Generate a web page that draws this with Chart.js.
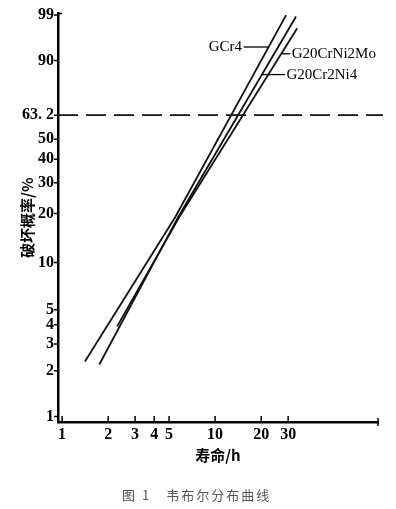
<!DOCTYPE html>
<html>
<head>
<meta charset="utf-8">
<script src="https://cdn.jsdelivr.net/npm/chart.js@4.4.1/dist/chart.umd.min.js"></script>
<style>
  html, body { margin: 0; padding: 0; background: #fff; }
  #wrap { position: relative; width: 396px; height: 509px; }
  #caption { position: absolute; left: 122px; top: 485px; font: 13px 'Noto Sans CJK SC'; color: #555; letter-spacing: 2px; white-space: pre; }
</style>
</head>
<body>
<div id="wrap">
  <canvas id="chart" width="396" height="509"></canvas>
  <div id="caption">图 1　韦布尔分布曲线</div>
</div>
<script>
// values (life in h, failure probability in %)
const lifeTicks = [1, 2, 3, 4, 5, 10, 20, 30];
const probTicks = [1, 2, 3, 4, 5, 10, 20, 30, 40, 50, 63.2, 90, 99];
const probTickLabels = ['1', '2', '3', '4', '5', '10', '20', '30', '40', '50', '63. 2', '90', '99'];

const seriesNames = ['GCr4', 'G20CrNi2Mo', 'G20Cr2Ni4'];
const gcr4Life = [1.41, 5.48, 29.1];
const gcr4Prob = [2.3, 19.0, 99.0];
const g20crni2moLife = [2.29, 5.82, 34.4];
const g20crni2moProb = [3.9, 19.0, 97.7];
const g20cr2ni4Life = [1.75, 5.73, 33.8];
const g20cr2ni4Prob = [2.2, 19.0, 98.9];

const characteristicProb = 63.2;
// where each name's leader line meets its curve (%)
const labelProb = [94.1, 92.2, 84.4];

// weibull paper: ln(-ln(1-F))
const weib = p => Math.log(-Math.log(1 - p / 100));
const toPoints = (life, prob) => life.map((x, i) => ({ x, y: weib(prob[i]) }));

const serif = 'Liberation Serif';
const cjk = 'Noto Sans CJK SC';
const lineStyle = { borderColor: '#111', borderWidth: 1.8, pointRadius: 0, showLine: true, fill: false };

const paperMarks = {
  id: 'paperMarks',
  afterDraw(chart) {
    const { ctx, chartArea: area, scales: { x, y } } = chart;
    ctx.save();
    ctx.strokeStyle = '#000';
    ctx.lineWidth = 1.5;
    ctx.beginPath();
    lifeTicks.forEach(v => {
      const px = x.getPixelForValue(v);
      ctx.moveTo(px, area.bottom);
      ctx.lineTo(px, area.bottom - 6);
    });
    probTicks.forEach(p => {
      const py = y.getPixelForValue(weib(p));
      ctx.moveTo(area.left - 4, py);
      ctx.lineTo(area.left, py);
    });
    ctx.moveTo(area.left, area.top);
    ctx.lineTo(area.left + 4, area.top);
    ctx.moveTo(area.right, area.bottom - 4);
    ctx.lineTo(area.right, area.bottom + 4);
    ctx.stroke();

    // curve names with leader lines
    const leaders = [
      { side: -1, len: 25 },
      { side: 1, len: 9 },
      { side: 1, len: 23 }
    ];
    ctx.font = '15px "' + serif + '"';
    ctx.fillStyle = '#000';
    ctx.textBaseline = 'middle';
    seriesNames.forEach((name, i) => {
      const pts = chart.getDatasetMeta(i).data;
      const py = y.getPixelForValue(weib(labelProb[i]));
      // find the segment that spans this height
      let px = pts[0].x;
      for (let k = 0; k < pts.length - 1; k++) {
        const a = pts[k], b = pts[k + 1];
        if ((py - a.y) * (py - b.y) <= 0) {
          px = a.x + (py - a.y) * (b.x - a.x) / (b.y - a.y);
        }
      }
      const { side, len } = leaders[i];
      const end = px + side * len;
      ctx.lineWidth = 1.3;
      ctx.beginPath();
      ctx.moveTo(px, py);
      ctx.lineTo(end, py);
      ctx.stroke();
      ctx.textAlign = side < 0 ? 'right' : 'left';
      ctx.fillText(name, end + side * 1.5, py);
    });
    ctx.restore();
  }
};

new Chart(document.getElementById('chart'), {
  type: 'scatter',
  data: {
    datasets: [
      { label: seriesNames[0], data: toPoints(gcr4Life, gcr4Prob), ...lineStyle },
      { label: seriesNames[1], data: toPoints(g20crni2moLife, g20crni2moProb), ...lineStyle },
      { label: seriesNames[2], data: toPoints(g20cr2ni4Life, g20cr2ni4Prob), ...lineStyle },
      {
        label: '63.2',
        data: [{ x: 0.94, y: weib(characteristicProb) }, { x: 125, y: weib(characteristicProb) }],
        ...lineStyle, borderWidth: 1.8, borderDash: [20, 8], clip: false
      }
    ]
  },
  options: {
    responsive: false,
    animation: false,
    layout: { padding: { top: 10, right: 18, bottom: 26, left: 0 } },
    plugins: { legend: { display: false }, tooltip: { enabled: false } },
    scales: {
      x: {
        type: 'logarithmic',
        min: 0.94,
        max: 116,
        afterBuildTicks: s => { s.ticks = lifeTicks.map(v => ({ value: v })); },
        afterFit: s => { s.height = 61; },
        grid: { display: false, drawTicks: false },
        border: { display: true, color: '#000', width: 2.5 },
        ticks: {
          autoSkip: false, maxRotation: 0, padding: 3, color: '#000',
          font: { family: serif, size: 16, weight: 'bold' },
          callback: v => String(v)
        },
        title: {
          display: true, text: '寿命/h', color: '#000',
          font: { family: cjk, size: 15, weight: 'bold' },
          padding: { top: 0, bottom: 19 }
        }
      },
      y: {
        type: 'linear',
        min: -4.683,
        max: 1.55,
        afterBuildTicks: s => { s.ticks = probTicks.map(p => ({ value: weib(p) })); },
        afterFit: s => { s.width = 58; },
        grid: { display: false, drawTicks: false },
        border: { display: true, color: '#000', width: 2.5 },
        ticks: {
          autoSkip: false, padding: 4, color: '#000',
          font: { family: serif, size: 16, weight: 'bold' },
          callback: (v, i) => probTickLabels[i]
        },
        title: {
          display: true, text: '破坏概率/%', color: '#000',
          font: { family: cjk, size: 15, weight: 'bold' },
          padding: { top: 18, bottom: 0 }
        }
      }
    }
  },
  plugins: [paperMarks]
});
</script>
</body>
</html>
